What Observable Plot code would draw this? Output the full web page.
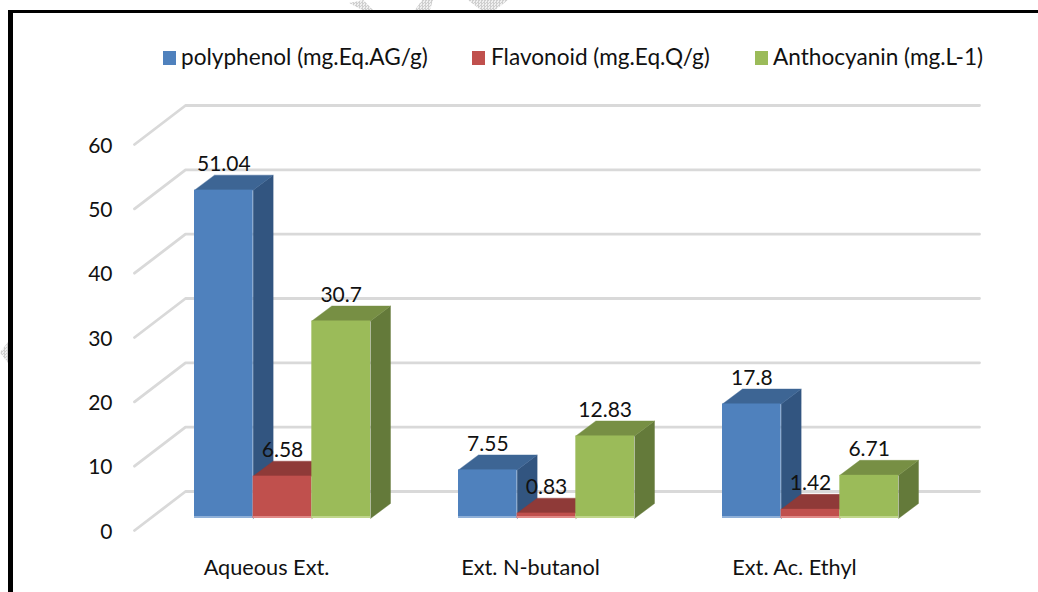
<!DOCTYPE html>
<html>
<head>
<meta charset="utf-8">
<script src="https://cdn.jsdelivr.net/npm/d3@7"></script>
<script src="https://cdn.jsdelivr.net/npm/@observablehq/plot@0.6"></script>
<style>
  html, body { margin: 0; padding: 0; background: #fff; overflow: hidden; }
  #page { position: relative; width: 1038px; height: 592px; font-family: Lato, sans-serif; color: #111; overflow: hidden; }
  #frame { position: absolute; left: 8px; top: 10px; right: -10px; bottom: -10px; border-left: 5px solid #000; border-top: 3.5px solid #000; }
  #chart { position: absolute; left: 0; top: 0; }
  .key { position: absolute; top: 44px; font-size: 22.6px; line-height: 26px; white-space: nowrap; }
  .swatch { position: absolute; top: 51px; width: 13px; height: 14px; }
  .mark { position: absolute; background: repeating-conic-gradient(#cfcfcf 0 25%, #f0f0f0 0 50%) 0 0 / 3px 3px; }
</style>
</head>
<body>
<div id="page">
  <div class="mark" style="left:349px;top:0;width:24px;height:10px;clip-path:polygon(0 30%,60% 0,100% 100%,55% 100%)"></div>
  <div class="mark" style="left:415px;top:0;width:18px;height:10px;clip-path:polygon(39% 0,100% 0,83% 100%,0 100%)"></div>
  <div class="mark" style="left:468px;top:0;width:40px;height:10px;clip-path:polygon(0 0,100% 0,68% 100%,32% 100%)"></div>
  <div class="mark" style="left:0;top:342px;width:8px;height:21px;clip-path:polygon(100% 0,100% 100%,0 50%)"></div>
  <div id="frame"></div><div id="chart"></div>
</div>
<script>
const categories = ["Aqueous Ext.", "Ext. N-butanol", "Ext. Ac. Ethyl"];
const seriesNames = ["polyphenol (mg.Eq.AG/g)", "Flavonoid (mg.Eq.Q/g)", "Anthocyanin (mg.L-1)"];
const polyphenol = [51.04, 7.55, 17.8];
const flavonoid = [6.58, 0.83, 1.42];
const anthocyanin = [30.7, 12.83, 6.71];
const yTicks = [0, 10, 20, 30, 40, 50, 60];
const frontColors = ["#4f81bd", "#c0504d", "#9bbb59"];
const topColors = ["#3d6594", "#8f3a38", "#778f44"];
const sideColors = ["#325580", "#8f3a38", "#647a3a"];
const baseColors = ["#8fb0d8", "#e08a88", "#c0d68c"];
const keyLefts = [[163, 181], [472, 491], [755, 773]];

const values = [polyphenol, flavonoid, anthocyanin];

// pseudo-3D depth, expressed in data units of the two scales
const pxX = 1 / 264, pxY = 60 / 386;
const barDepth = { x: 20 * pxX, y: 15 * pxY };
const wall = { x: 35 * pxX, y: 27 * pxY };
const floorFront = { x: -16 * pxX, y: -12 * pxY };
const gridEnd = 3 + 2 * pxX;
const groupPad = 1 / 6, barW = 2 / 9;

const grid = yTicks.flatMap(v => [
  { t: v, x: floorFront.x, y: v + floorFront.y },
  { t: v, x: wall.x, y: v + wall.y },
  { t: v, x: gridEnd + wall.x, y: v + wall.y }
]);

const seriesMarks = values.flatMap((vals, s) => {
  const bars = vals.map((v, g) => {
    const x1 = g + groupPad + s * barW;
    return { g, s, v, x1, x2: x1 + barW };
  });
  const faces = bars.flatMap(b => [
    { id: `side${b.g}`, c: sideColors[s], x: b.x2, y: 0 },
    { id: `side${b.g}`, c: sideColors[s], x: b.x2 + barDepth.x, y: barDepth.y },
    { id: `side${b.g}`, c: sideColors[s], x: b.x2 + barDepth.x, y: b.v + barDepth.y },
    { id: `side${b.g}`, c: sideColors[s], x: b.x2, y: b.v },
    { id: `top${b.g}`, c: topColors[s], x: b.x1, y: b.v },
    { id: `top${b.g}`, c: topColors[s], x: b.x1 + barDepth.x, y: b.v + barDepth.y },
    { id: `top${b.g}`, c: topColors[s], x: b.x2 + barDepth.x, y: b.v + barDepth.y },
    { id: `top${b.g}`, c: topColors[s], x: b.x2, y: b.v }
  ]);
  return [
    Plot.line(faces, { x: "x", y: "y", z: "id", fill: "c", stroke: "c", strokeWidth: 0.4, curve: "linear" }),
    Plot.rect(bars, { x1: "x1", x2: "x2", y1: 0, y2: "v", fill: frontColors[s], inset: 0 }),
    Plot.rect(bars, { x1: "x1", x2: "x2", y1: 0, y2: 2 * pxY, fill: baseColors[s] })
  ];
});

const labels = values.flatMap((vals, s) => vals.map((v, g) => ({ v, x: g + groupPad + (s + 0.5) * barW })));

const chart = Plot.plot({
  width: 1038,
  height: 592,
  marginLeft: 150,
  marginRight: 96,
  marginTop: 132,
  marginBottom: 74,
  style: { background: "transparent", fontFamily: "Lato, sans-serif", overflow: "visible" },
  x: { domain: [0, 3] },
  y: { domain: [0, 60] },
  marks: [
    Plot.line(grid, { x: "x", y: "y", z: "t", stroke: "#d9d9d9", strokeWidth: 2.8, curve: "linear" }),
    ...seriesMarks,
    Plot.axisY({ ticks: yTicks, tickSize: 0, tickPadding: 38, dy: 13.5, fontSize: 21, fill: "#111", label: null }),
    Plot.axisX({
      ticks: [0.5, 1.5, 2.5],
      tickFormat: d => categories[Math.floor(d)],
      tickSize: 0, tickPadding: 41, dx: -16, fontSize: 21.7, fill: "#111", label: null
    }),
    Plot.text(labels, { x: "x", y: "v", text: d => String(d.v), dy: -26, fontSize: 21, fill: "#111" })
  ]
});
document.getElementById("chart").appendChild(chart);

const page = document.getElementById("page");
seriesNames.forEach((name, i) => {
  const sw = document.createElement("div");
  sw.className = "swatch";
  sw.style.left = keyLefts[i][0] + "px";
  sw.style.background = frontColors[i];
  page.appendChild(sw);
  const t = document.createElement("div");
  t.className = "key";
  t.style.left = keyLefts[i][1] + "px";
  t.textContent = name;
  page.appendChild(t);
});
</script>
</body>
</html>
